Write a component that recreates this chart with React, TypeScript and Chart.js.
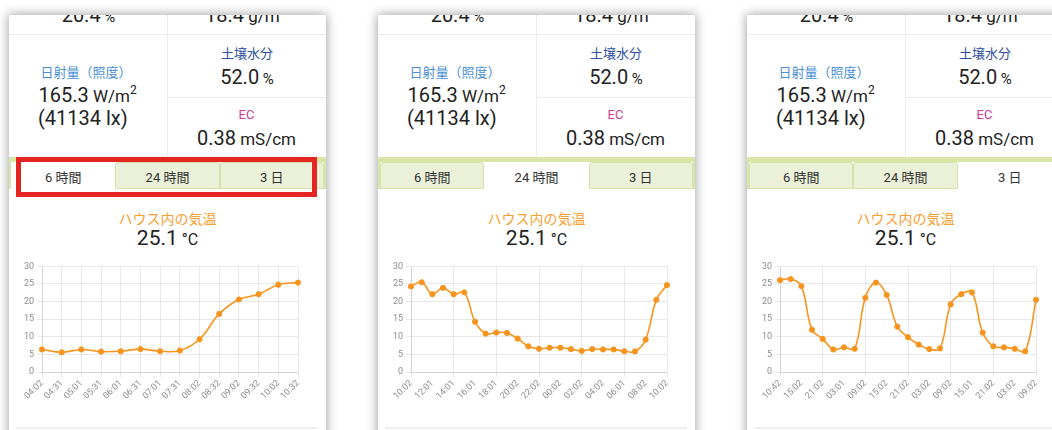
import React, { useEffect, useRef } from "react";
import { Chart, registerables } from "chart.js";

Chart.register(...registerables);

// ---------- data ----------
const yTickValues = [0, 5, 10, 15, 20, 25, 30];

const labels6h = ["04:02", "04:31", "05:01", "05:31", "06:01", "06:31", "07:01", "07:31", "08:02", "08:32", "09:02", "09:32", "10:02", "10:32"];
const temps6h = [6.4, 5.6, 6.4, 5.8, 5.9, 6.5, 5.9, 6.1, 9.3, 16.5, 20.6, 22.1, 24.8, 25.4];

const labels24h = ["10:02", "11:01", "12:01", "13:01", "14:01", "15:01", "16:01", "17:01", "18:01", "19:02", "20:02", "21:02", "22:02", "23:02", "00:02", "01:02", "02:02", "03:02", "04:02", "05:01", "06:01", "07:01", "08:02", "09:02", "10:02"];
const temps24h = [24.3, 25.5, 22.1, 23.9, 22.1, 22.6, 14.3, 10.9, 11.2, 11.1, 9.5, 7.3, 6.6, 6.9, 6.9, 6.5, 6.0, 6.5, 6.4, 6.4, 5.9, 5.85, 9.2, 20.5, 24.7];

const labels3d = ["10:42", "12:02", "15:02", "18:02", "21:02", "00:02", "03:01", "06:02", "09:02", "12:02", "15:02", "18:02", "21:02", "00:02", "03:02", "06:02", "09:02", "12:02", "15:01", "18:02", "21:02", "00:02", "03:02", "06:02", "09:02"];
const temps3d = [26.1, 26.4, 24.4, 12.0, 9.4, 6.4, 7.0, 6.6, 21.1, 25.4, 21.9, 12.9, 9.9, 7.8, 6.5, 6.7, 19.2, 22.1, 22.6, 11.2, 7.3, 7.0, 6.6, 5.9, 20.5];

const tabLabels = ["6 時間", "24 時間", "3 日"];

// ---------- styles ----------
const FONT = "Roboto, 'Noto Sans CJK JP', sans-serif";
const ORANGE = "#f7941d";
const GRID = "rgba(0,0,0,0.09)";
const TICK = "#8c8c8c";

type TProps = {
  x: number;
  y: number;
  size: number;
  align?: "center" | "left";
  color?: string;
  children: React.ReactNode;
};

function T({ x, y, size, align = "center", color = "#222", children }: TProps) {
  return (
    <div
      style={{
        position: "absolute",
        left: x,
        top: y - 0.84 * size,
        transform: align === "center" ? "translateX(-50%)" : undefined,
        fontSize: size,
        lineHeight: `${size}px`,
        whiteSpace: "nowrap",
        color,
        fontFamily: FONT,
      }}
    >
      {children}
    </div>
  );
}

function TempChart({ labels, values, skipOdd }: { labels: string[]; values: number[]; skipOdd: boolean }) {
  const ref = useRef<HTMLCanvasElement>(null);
  useEffect(() => {
    const chart = new Chart(ref.current!, {
      type: "line",
      data: {
        labels,
        datasets: [
          {
            data: values,
            borderColor: ORANGE,
            backgroundColor: ORANGE,
            pointBackgroundColor: ORANGE,
            pointBorderColor: ORANGE,
            borderWidth: 1.6,
            pointRadius: 2.6,
            pointBorderWidth: 1,
            tension: 0.4,
            fill: false,
          },
        ],
      },
      options: {
        animation: false,
        responsive: false,
        events: [],
        layout: { padding: { top: 8, right: 19, left: 0, bottom: 0 } },
        plugins: { legend: { display: false }, tooltip: { enabled: false } },
        scales: {
          x: {
            grid: {
              color: (ctx: any) => (skipOdd && ctx.index % 2 ? "rgba(0,0,0,0)" : GRID),
              tickLength: 5,
            },
            border: { color: GRID },
            ticks: {
              autoSkip: false,
              minRotation: 45,
              maxRotation: 45,
              padding: 1,
              color: TICK,
              font: { family: FONT, size: 9 },
              callback: (_v: any, i: number) => (skipOdd && i % 2 ? null : labels[i]),
            },
            afterFit: (s: any) => {
              s.height = 36;
            },
          },
          y: {
            min: 0,
            max: 30,
            grid: { color: GRID, tickLength: 5 },
            border: { color: GRID },
            ticks: {
              stepSize: 5,
              padding: 3,
              color: TICK,
              font: { family: FONT, size: 9 },
            },
            afterBuildTicks: (s: any) => {
              s.ticks = yTickValues.map((v) => ({ value: v }));
            },
            afterFit: (s: any) => {
              s.width = 25;
            },
          },
        },
      },
    } as any);
    return () => chart.destroy();
  }, []);
  return (
    <canvas
      ref={ref}
      width={300}
      height={150}
      style={{ position: "absolute", left: 8, top: 243, width: 300, height: 150 }}
    />
  );
}

function Panel({
  left,
  active,
  labels,
  values,
  skipOdd,
  highlight,
}: {
  left: number;
  active: number;
  labels: string[];
  values: number[];
  skipOdd: boolean;
  highlight: boolean;
}) {
  const tabW = 313 / 3;
  return (
    <div
      style={{
        position: "absolute",
        left,
        top: 15,
        width: 317,
        height: 430,
        background: "#fff",
        boxShadow: "0 0 10px 1px rgba(0,0,0,0.35)",
        overflow: "hidden",
        fontFamily: FONT,
      }}
    >
      {/* top row (cut) */}
      <T x={79.5} y={7} size={20}>
        20.4<span style={{ fontSize: 15 }}> %</span>
      </T>
      <T x={236.5} y={7} size={20}>
        18.4<span style={{ fontSize: 17 }}> g/m</span>
        <span style={{ fontSize: 11, position: "relative", top: -8 }}>3</span>
      </T>
      <div style={{ position: "absolute", left: 0, top: 19, width: 317, height: 1, background: "#ececec" }} />
      <div style={{ position: "absolute", left: 158, top: 0, width: 1, height: 142, background: "#ececec" }} />
      <div style={{ position: "absolute", left: 158, top: 82, width: 159, height: 1, background: "#ececec" }} />

      {/* left cell */}
      <T x={31.5} y={61.5} size={13} align="left" color="#4a90d6">
        日射量（照度）
      </T>
      <T x={29.5} y={86.7} size={20} align="left">
        165.3<span style={{ fontSize: 17 }}> W/m</span>
        <span style={{ fontSize: 12, position: "relative", top: -8 }}>2</span>
      </T>
      <T x={29} y={110} size={20} align="left">
        (41134 lx)
      </T>

      {/* right cells */}
      <T x={238} y={42.7} size={13} color="#2c4f9e">
        土壌水分
      </T>
      <T x={238} y={68.3} size={20}>
        52.0<span style={{ fontSize: 15 }}> %</span>
      </T>
      <T x={237.5} y={104.3} size={13} color="#d2399a">
        EC
      </T>
      <T x={237.5} y={130} size={20}>
        0.38<span style={{ fontSize: 17 }}> mS/cm</span>
      </T>

      {/* tabs */}
      <div style={{ position: "absolute", left: 0, top: 142, width: 317, height: 5, background: "#d5e6a6" }} />
      <div style={{ position: "absolute", left: 0, top: 142, width: 2, height: 32, background: "#d5e6a6" }} />
      <div style={{ position: "absolute", left: 315, top: 142, width: 2, height: 32, background: "#d5e6a6" }} />
      {tabLabels.map((t, i) => {
        const isActive = i === active;
        return (
          <div
            key={i}
            style={{
              position: "absolute",
              left: 2 + i * tabW,
              top: 146.5,
              width: tabW,
              height: isActive ? 30 : 27.5,
              boxSizing: "border-box",
              background: isActive ? "#fff" : "#eaf1d8",
              border: isActive ? "none" : "1px solid #d3e3a6",
              borderTopLeftRadius: 3,
              borderTopRightRadius: 3,
            }}
          />
        );
      })}
      {tabLabels.map((t, i) => (
        <T key={"t" + i} x={2 + (i + 0.5) * tabW} y={167} size={13} color="#333">
          {t}
        </T>
      ))}
      {highlight && (
        <div
          style={{
            position: "absolute",
            left: 7,
            top: 142,
            width: 301,
            height: 40,
            boxSizing: "border-box",
            border: "5px solid #e52521",
          }}
        />
      )}

      {/* chart header */}
      <T x={158.5} y={209} size={14} color="#f5a032">
        ハウス内の気温
      </T>
      <T x={158.5} y={231} size={21}>
        25.1<span style={{ fontSize: 16 }}> °C</span>
      </T>

      <TempChart labels={labels} values={values} skipOdd={skipOdd} />

      <div style={{ position: "absolute", left: 7, top: 412, width: 302, height: 2, background: "#f0f0f0" }} />
    </div>
  );
}

export default function App() {
  return (
    <div
      style={{
        position: "fixed",
        left: 0,
        top: 0,
        width: 1052,
        height: 430,
        background: "#fff",
        overflow: "hidden",
      }}
    >
      <Panel left={9} active={0} labels={labels6h} values={temps6h} skipOdd={false} highlight={true} />
      <Panel left={378} active={1} labels={labels24h} values={temps24h} skipOdd={true} highlight={false} />
      <Panel left={747} active={2} labels={labels3d} values={temps3d} skipOdd={true} highlight={false} />
    </div>
  );
}
